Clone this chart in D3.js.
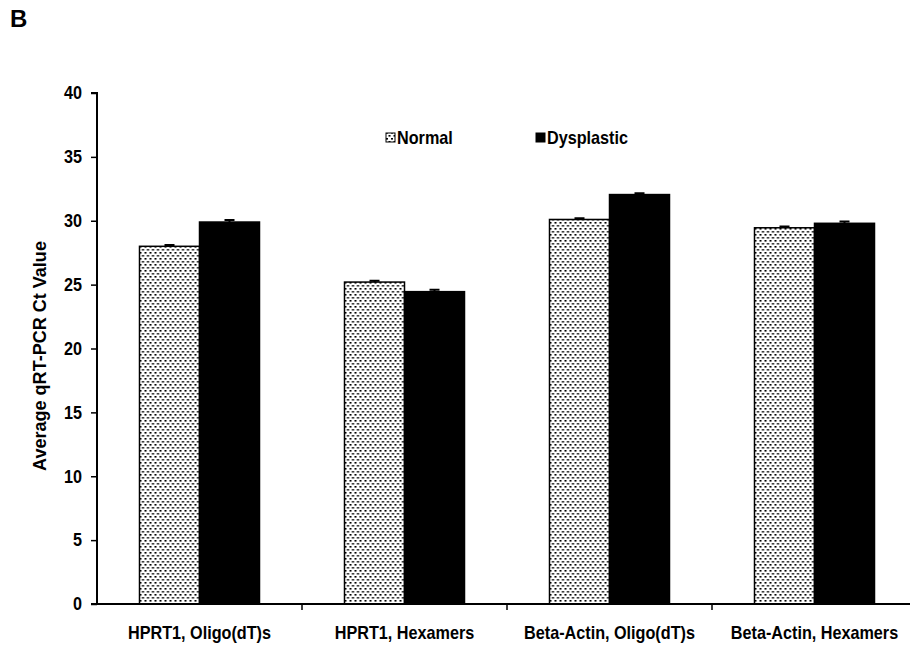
<!DOCTYPE html>
<html><head><meta charset="utf-8">
<script src="https://cdn.jsdelivr.net/npm/d3@7"></script>
<style>
html,body{margin:0;padding:0;background:#fff;}
svg text{font-family:"Liberation Sans",Arial,sans-serif;font-weight:bold;fill:#000;}
</style></head>
<body><svg id="c" width="910" height="646"></svg>
<script>
const categories = ["HPRT1, Oligo(dT)s", "HPRT1, Hexamers", "Beta-Actin, Oligo(dT)s", "Beta-Actin, Hexamers"];
const seriesNames = ["Normal", "Dysplastic"];
const normalValues = [28.0, 25.2, 30.1, 29.45];
const dysplasticValues = [29.9, 24.45, 32.05, 29.8];
const normalErrors = [0.1, 0.1, 0.1, 0.1];
const dysplasticErrors = [0.15, 0.15, 0.1, 0.15];
const yTicks = [0, 5, 10, 15, 20, 25, 30, 35, 40];
const yTitle = "Average qRT-PCR Ct Value";
const panelLabel = "B";

const svg = d3.select("#c");
const defs = svg.append("defs");
const pat = defs.append("pattern").attr("id","dots").attr("patternUnits","userSpaceOnUse")
  .attr("width",5).attr("height",6);
pat.append("rect").attr("width",5).attr("height",6).attr("fill","#fff");
pat.append("rect").attr("x",0).attr("y",0).attr("width",2).attr("height",1.6).attr("fill","#000");
pat.append("rect").attr("x",2.5).attr("y",3).attr("width",2).attr("height",1.6).attr("fill","#000");

const SX = 0.9; // condensed look
const mLeft = 97, mBottom = 604, mTop = 93;
const x = d3.scaleBand().domain(categories).range([mLeft, mLeft + 4*205]).padding(0);
const y = d3.scaleLinear().domain([0, 40]).range([mBottom, mTop]);
const xs = d3.scaleBand().domain(seriesNames).range([0, 120]);

const data = categories.map((c,i)=>({cat:c, vals:[
  {s:"Normal", v:normalValues[i], e:normalErrors[i]},
  {s:"Dysplastic", v:dysplasticValues[i], e:dysplasticErrors[i]}]}));

const fills = {"Normal":"url(#dots)", "Dysplastic":"#000"};

const g = svg.append("g").selectAll("g").data(data).join("g")
  .attr("transform", d=>`translate(${x(d.cat)+x.bandwidth()/2-60},0)`);
g.selectAll("rect").data(d=>d.vals).join("rect")
  .attr("x", d=>xs(d.s)).attr("width", xs.bandwidth())
  .attr("y", d=>y(d.v)).attr("height", d=>mBottom-y(d.v))
  .attr("fill", d=>fills[d.s]).attr("stroke","#000").attr("stroke-width",1.5);
g.selectAll("path.err").data(d=>d.vals).join("path").attr("class","err")
  .attr("d", d=>{const cx=xs(d.s)+xs.bandwidth()/2; return `M${cx-5},${y(d.v+d.e)}H${cx+5}M${cx},${y(d.v+d.e)}V${y(d.v)}`;})
  .attr("stroke","#000").attr("stroke-width",2).attr("fill","none");

// y axis
const ya = svg.append("g").attr("transform",`translate(${mLeft},0)`)
  .call(d3.axisLeft(y).tickValues(yTicks).tickSize(6).tickPadding(8));
ya.select(".domain").attr("stroke","#000").attr("stroke-width",2).attr("d",`M-6,${mTop}H0V${mBottom}`);
ya.selectAll(".tick line").attr("stroke","#000").attr("stroke-width",1.5);
ya.selectAll(".tick text").attr("font-size",18)
  .style("font-family",'"Liberation Sans",Arial,sans-serif').style("font-weight","bold")
  .attr("x",null).attr("transform",`translate(-15,0) scale(${SX},1)`);

// x axis
const xa = svg.append("g").attr("transform",`translate(0,${mBottom})`);
xa.append("line").attr("x1",mLeft-6).attr("x2",910).attr("y1",0).attr("y2",0).attr("stroke","#000").attr("stroke-width",2);
xa.selectAll("line.t").data(categories.slice(1)).join("line").attr("class","t")
  .attr("x1",d=>x(d)).attr("x2",d=>x(d)).attr("y1",0).attr("y2",6).attr("stroke","#000").attr("stroke-width",1.5);
xa.selectAll("text").data(categories).join("text")
  .attr("transform",d=>`translate(${x(d)+x.bandwidth()/2},35) scale(${SX},1)`)
  .attr("text-anchor","middle").attr("font-size",18).text(d=>d);

// y title
svg.append("text").attr("transform","translate(46,356) rotate(-90) scale(0.95,1)")
  .attr("text-anchor","middle").attr("font-size",19).text(yTitle);

// panel label
svg.append("text").attr("x",10).attr("y",27).attr("font-size",24).text(panelLabel);

// legend
const leg = svg.append("g").attr("transform","translate(386,138)");
const legItems = [{s:"Normal", x:0}, {s:"Dysplastic", x:150}];
const li = leg.selectAll("g").data(legItems).join("g").attr("transform",d=>`translate(${d.x},0)`);
li.append("rect").attr("x",0).attr("y",-5).attr("width",9).attr("height",9)
  .attr("fill",d=>fills[d.s]).attr("stroke","#000").attr("stroke-width",1);
li.append("text").attr("transform",`translate(11,6) scale(${SX},1)`).attr("font-size",18).text(d=>d.s);
</script></body></html>
